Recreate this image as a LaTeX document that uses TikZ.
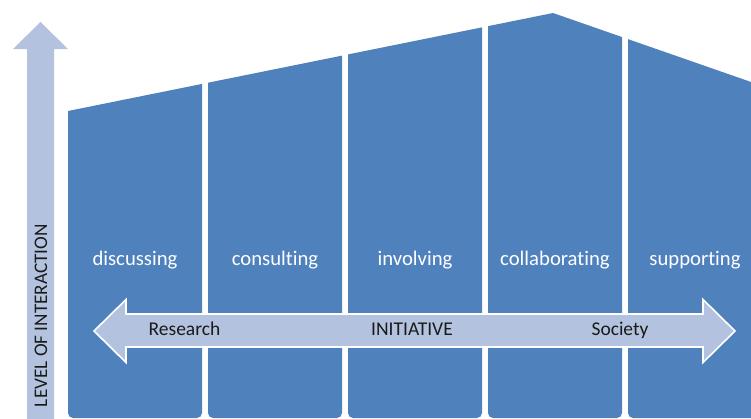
\documentclass[tikz,border=0pt]{standalone}
\usepackage{fontspec}
\setmainfont[Ligatures=NoCommon]{Carlito}
\begin{document}
\definecolor{colblue}{HTML}{4F81BD}
\definecolor{arrowblue}{HTML}{B3C3DF}
\definecolor{inktext}{HTML}{1A1A1A}
\begin{tikzpicture}[x=1pt,y=-1pt,
  column/.style={fill=colblue,rounded corners=5pt},
  stagelabel/.style={text=white,anchor=base,font=\fontsize{20.7}{24}\selectfont,inner sep=0pt},
  arrowlabel/.style={text=inktext,anchor=base,font=\fontsize{19.5}{22}\selectfont,inner sep=0pt},
  levelarrow/.style={fill=arrowblue},
  initarrow/.style={fill=arrowblue,draw=white,line width=1.6pt,line join=miter}]
\useasboundingbox (0,0) rectangle (751,418);

% sloping roof that trims the five columns
\begin{scope}
  \clip (68,430) -- (68,111) -- (553,13) -- (762,85.8) -- (762,430) -- cycle;
  \foreach \xl in {68,208,348,488,628}
    \fill[column] (\xl,0) rectangle ++(134,418);
\end{scope}

% level-of-interaction arrow
\fill[levelarrow] (27,420) -- (27,49) -- (13,49) -- (40.5,22) -- (68,49) -- (54,49) -- (54,420) -- cycle;
\node[rotate=90,text=inktext,font=\fontsize{19.2}{22}\selectfont,inner sep=0pt] (level) at (41,315.5) {LEVEL OF INTERACTION};

% stage labels
\node[stagelabel] (discussing) at (135,265) {discussing};
\node[stagelabel] (consulting) at (275,265) {consulting};
\node[stagelabel] (involving) at (415,265) {involving};
\node[stagelabel] (collaborating) at (555,265) {collaborating};
\node[stagelabel] (supporting) at (695,265) {supporting};

% initiative double arrow
\draw[initarrow] (94,331) -- (126,299.5) -- (126,314) -- (703,314) -- (703,299.5) -- (735,331)
  -- (703,362.5) -- (703,347) -- (126,347) -- (126,362.5) -- cycle;
\node[arrowlabel] (research) at (184.5,335) {Research};
\node[arrowlabel] (initiative) at (412,335) {INITIATIVE};
\node[arrowlabel] (society) at (620,335) {Society};
\end{tikzpicture}
\end{document}
